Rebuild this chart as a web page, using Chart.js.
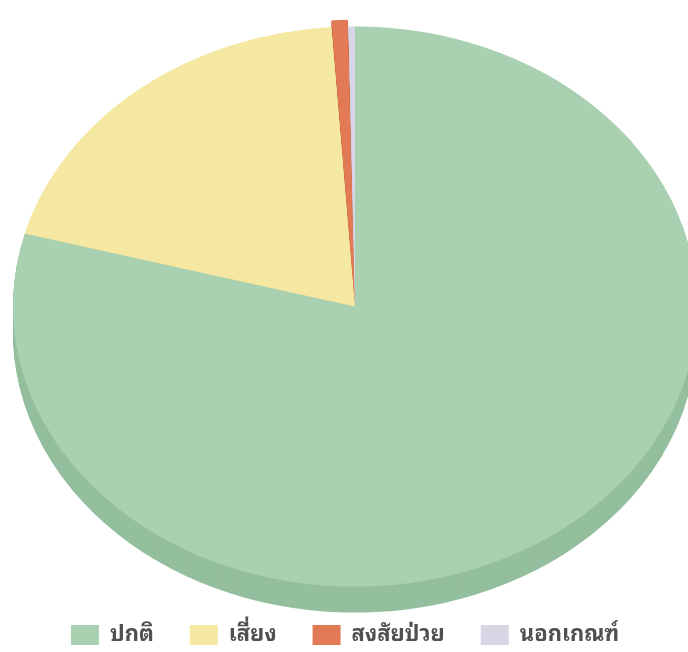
<!DOCTYPE html>
<html>
<head>
<meta charset="utf-8">
<script src="https://cdn.jsdelivr.net/npm/chart.js@4.4.1/dist/chart.umd.min.js"></script>
<style>
  html, body { margin: 0; padding: 0; background: #fff; }
  #wrap { width: 688px; height: 652px; }
</style>
</head>
<body>
<div id="wrap"><canvas id="pie"></canvas></div>
<script>
const labels = ['ปกติ', 'เสี่ยง', 'สงสัยป่วย', 'นอกเกณฑ์'];
const values = [79.2, 19.7, 0.8, 0.3];
const faceColors = ['#a9d0b0', '#f4e8a2', '#e27a55', '#d6d6e4'];
const sideColors = ['#94bf9e', '#ddd08a', '#c8643f', '#bcbccc'];
const explode = [0, 0, 17, 0];

// squash the round pie into an ellipse and give it a thickness
const SQUASH = 0.819;
const DEPTH = 26;
const LEGEND_H = 64;
const LEGEND_SHIFT = -10;

function ellipse(ctx, arc) {
    ctx.translate(arc.x, arc.y);
    ctx.scale(1, SQUASH);
    ctx.translate(-arc.x, -arc.y);
}

const pie3d = {
    id: 'pie3d',
    beforeLayout(chart) {
        // keep wide gaps between legend items without a tall legend box
        const lg = chart.legend;
        if (lg && !lg._fixed) {
            const fit = lg.fit;
            lg.fit = function () {
                fit.call(this);
                this.height = LEGEND_H;
            };
            lg._fixed = true;
        }
    },
    afterLayout(chart) {
        const lg = chart.legend;
        if (lg) {
            lg.left += LEGEND_SHIFT;
            lg.right += LEGEND_SHIFT;
        }
    },
    beforeDatasetsDraw(chart) {
        const ctx = chart.ctx;
        const arcs = chart.getDatasetMeta(0).data;
        for (let d = DEPTH; d >= 1; d--) {
            arcs.forEach((arc, i) => {
                ctx.save();
                ctx.translate(0, d);
                ellipse(ctx, arc);
                const bg = arc.options.backgroundColor;
                arc.options.backgroundColor = sideColors[i];
                arc.draw(ctx);
                arc.options.backgroundColor = bg;
                ctx.restore();
            });
        }
    },
    beforeDatasetDraw(chart) {
        chart.ctx.save();
        ellipse(chart.ctx, chart.getDatasetMeta(0).data[0]);
    },
    afterDatasetDraw(chart) {
        chart.ctx.restore();
    },
};

new Chart(document.getElementById('pie'), {
    type: 'pie',
    data: {
        labels,
        datasets: [{
            data: values,
            backgroundColor: faceColors,
            borderWidth: 0,
            offset: explode,
        }],
    },
    options: {
        responsive: true,
        maintainAspectRatio: false,
        animation: false,
        radius: 342,
        layout: { padding: { left: 22, top: 25, bottom: 0 } },
        plugins: {
            legend: {
                position: 'bottom',
                labels: {
                    color: '#505050',
                    boxWidth: 28,
                    boxHeight: 20,
                    padding: 36,
                    font: { family: '"Noto Sans Thai Looped", Loma, Garuda, "Noto Sans", sans-serif', size: 22, weight: 'bold' },
                },
            },
            tooltip: { enabled: false },
        },
    },
    plugins: [pie3d],
});
</script>
</body>
</html>
